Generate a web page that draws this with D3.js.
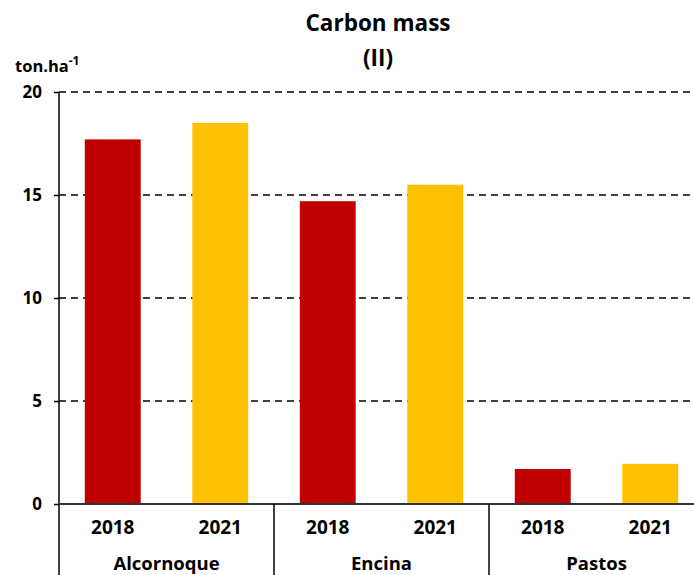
<!DOCTYPE html>
<html><head><meta charset="utf-8">
<script src="https://cdn.jsdelivr.net/npm/d3@7"></script>
<style>
html,body{margin:0;padding:0;background:#fff;overflow:hidden;}
text{font-family:"Open Sans",sans-serif;font-weight:bold;fill:#000;}
</style></head>
<body><svg id="chart" width="694" height="575"></svg>
<script>
const groups = ["Alcornoque", "Encina", "Pastos"];
const years = ["2018", "2021"];
const values2018 = [17.7, 14.7, 1.7];
const values2021 = [18.5, 15.5, 1.95];
const yTicks = [0, 5, 10, 15, 20];
const colors = {"2018": "#C00000", "2021": "#FFC000"};

const data = [];
groups.forEach((g, i) => {
  data.push({group: g, year: "2018", value: values2018[i]});
  data.push({group: g, year: "2021", value: values2021[i]});
});

const svg = d3.select("#chart");
const pLeft = 59, pRight = 704, pTop = 92, pBottom = 504;

const x0 = d3.scaleBand().domain(groups).range([pLeft, pRight]).padding(0);
const x1 = d3.scaleBand().domain(years).range([0, x0.bandwidth()]).paddingInner(0.48).paddingOuter(0.24);
const y = d3.scaleLinear().domain([0, 20]).range([pBottom, pTop]);

// gridlines
svg.append("g").selectAll("line").data(yTicks.filter(t => t > 0)).join("line")
  .attr("x1", pLeft).attr("x2", pRight)
  .attr("y1", d => y(d)).attr("y2", d => y(d))
  .attr("stroke", "#000").attr("stroke-width", 1.5).attr("stroke-dasharray", "7,5");

// bars
svg.append("g").selectAll("rect").data(data).join("rect")
  .attr("x", d => x0(d.group) + x1(d.year))
  .attr("width", x1.bandwidth())
  .attr("y", d => y(d.value))
  .attr("height", d => y(0) - y(d.value))
  .attr("fill", d => colors[d.year]);

// y axis
const yAxis = d3.axisLeft(y).tickValues(yTicks).tickSize(5).tickPadding(12);
const ya = svg.append("g").attr("transform", `translate(${pLeft},0)`).call(yAxis);
ya.select(".domain").remove();
ya.selectAll(".tick line").attr("stroke", "#000").attr("stroke-width", 1.5);
ya.selectAll(".tick text").style("font-size", "17px").style("font-family", "'Open Sans',sans-serif").style("font-weight", "bold").attr("fill", "#000");
svg.append("line").attr("x1", pLeft).attr("x2", pLeft).attr("y1", pTop).attr("y2", 575)
  .attr("stroke", "#000").attr("stroke-width", 1.5);

// x axis line
svg.append("line").attr("x1", pLeft).attr("x2", pRight).attr("y1", pBottom).attr("y2", pBottom)
  .attr("stroke", "#333").attr("stroke-width", 2);

// group separators
svg.append("g").selectAll("line").data(groups.slice(1)).join("line")
  .attr("x1", d => x0(d)).attr("x2", d => x0(d))
  .attr("y1", pBottom).attr("y2", 575)
  .attr("stroke", "#000").attr("stroke-width", 1.5);

// year labels
svg.append("g").selectAll("text").data(data).join("text")
  .attr("x", d => x0(d.group) + x1(d.year) + x1.bandwidth() / 2)
  .attr("y", 534)
  .attr("text-anchor", "middle")
  .style("font-size", "19px")
  .text(d => d.year);

// group labels
svg.append("g").selectAll("text").data(groups).join("text")
  .attr("x", d => x0(d) + x0.bandwidth() / 2)
  .attr("y", 570)
  .attr("text-anchor", "middle")
  .style("font-size", "18.5px")
  .text(d => d);

// title
svg.append("text").attr("x", 378).attr("y", 31).attr("text-anchor", "middle")
  .style("font-size", "22.5px").text("Carbon mass");
svg.append("text").attr("x", 378).attr("y", 66).attr("text-anchor", "middle")
  .style("font-size", "22.5px").text("(II)");

// unit label
const u = svg.append("text").attr("x", 15).attr("y", 72).style("font-size", "16.5px");
u.append("tspan").text("ton.ha");
u.append("tspan").attr("dy", -7).style("font-size", "12px").text("-1");
</script></body></html>
